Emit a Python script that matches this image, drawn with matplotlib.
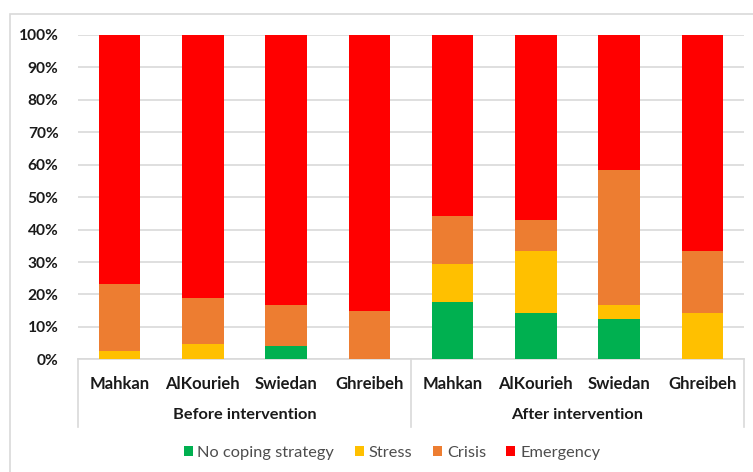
import matplotlib
matplotlib.use("Agg")
import matplotlib.pyplot as plt
from matplotlib.patches import Rectangle
from matplotlib.lines import Line2D
import numpy as np

plt.rcParams['font.family'] = ['Lato', 'DejaVu Sans']

sites = ["Mahkan", "AlKourieh", "Swiedan", "Ghreibeh",
         "Mahkan", "AlKourieh", "Swiedan", "Ghreibeh"]
groups = ["Before intervention", "After intervention"]
series = ["No coping strategy", "Stress", "Crisis", "Emergency"]
colors = ["#00B050", "#FFC000", "#ED7D31", "#FF0000"]

no_coping = [0.0, 0.0, 4.2, 0.0, 17.6, 14.3, 12.5, 0.0]
stress    = [2.6, 4.6, 0.0, 0.0, 11.8, 19.0, 4.2, 14.3]
crisis    = [20.6, 14.4, 12.5, 15.0, 14.7, 9.5, 41.7, 19.0]
emergency = [76.8, 81.0, 83.3, 85.0, 55.9, 57.2, 41.6, 66.7]

W, H = 753, 472
fig = plt.figure(figsize=(W/100, H/100), dpi=100)
x0, x1 = 78, 744
y0, y1 = 359.3, 35
ax = fig.add_axes([x0/W, 1 - y0/H, (x1-x0)/W, (y0-y1)/H])

# outer frame
fig.patches.append(Rectangle((10/W, -0.05), 1.2, 1 - 14/H + 0.05,
                             transform=fig.transFigure, fill=False,
                             edgecolor="#d9d9d9", linewidth=1.2))

x = np.arange(len(sites))
bottom = np.zeros(len(sites))
for vals, lab, c in zip([no_coping, stress, crisis, emergency], series, colors):
    ax.bar(x, vals, width=0.5, bottom=bottom, color=c, label=lab, zorder=3)
    bottom += np.array(vals)

ax.set_xlim(-0.5, len(sites) - 0.5)
ax.set_ylim(0, 100)
ax.set_yticks(np.arange(0, 101, 10))
ax.set_yticklabels([f"{v}%" for v in range(0, 101, 10)],
                   fontsize=11.2, fontweight="bold", color="#1a1a1a")
ax.yaxis.grid(True, color="#d9d9d9", linewidth=1.2, zorder=0)
ax.tick_params(axis="y", length=0, pad=14)
ax.tick_params(axis="x", length=0)
ax.set_xticks([])
for s in ["top", "right", "left"]:
    ax.spines[s].set_visible(False)
ax.spines["bottom"].set_color("#d9d9d9")
ax.spines["bottom"].set_linewidth(1.2)

# category labels
px = (y0 - y1) / 100.0
def ay(pix):
    return -(pix - y0) / px
for i, s in enumerate(sites):
    ax.text(i, ay(384), s, ha="center", va="center", fontsize=12,
            fontweight="bold", color="#1a1a1a", clip_on=False)
for g, gname in enumerate(groups):
    ax.text(g*4 + 1.5, ay(415), gname, ha="center", va="center", fontsize=11.8,
            fontweight="bold", color="#1a1a1a", clip_on=False)
for xv in [-0.5, 3.5, 7.5]:
    ax.add_line(Line2D([xv, xv], [0, ay(427)], color="#d9d9d9", linewidth=1.2,
                       clip_on=False))

leg = fig.legend(loc="center", bbox_to_anchor=(392/W, 1 - 453/H), ncol=4,
                 frameon=False, fontsize=11.8, handlelength=0.55, handleheight=0.55,
                 handletextpad=0.3, columnspacing=1.25)
for t in leg.get_texts():
    t.set_color("#4d4d4d")

fig.savefig("out.png", dpi=100)
